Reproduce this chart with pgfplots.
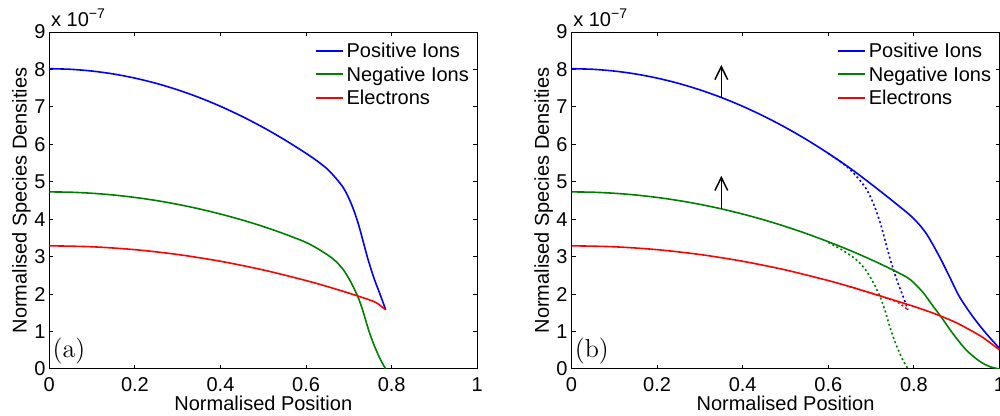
\documentclass[border=0pt]{standalone}
\usepackage{fontspec}
\setsansfont{Liberation Sans}
\usepackage{pgfplots}
\pgfplotsset{compat=1.18}
\usetikzlibrary{arrows.meta}

\definecolor{mblue}{rgb}{0,0,1}
\definecolor{mgreen}{rgb}{0,0.5,0}
\definecolor{mred}{rgb}{1,0,0}

\pgfplotsset{
  mstyle/.style={
    width=214pt, height=168.5pt, scale only axis,
    xmin=0,xmax=1,ymin=0,ymax=9,
    xtick={0,0.2,0.4,0.6,0.8,1},
    xticklabels={0,0.2,0.4,0.6,0.8,1},
    ytick={0,1,2,3,4,5,6,7,8,9},
    yticklabels={0,1,2,3,4,5,6,7,8,9},
    tick align=inside,
    major tick length=2pt,
    axis line style={line width=0.5pt},
    every tick/.style={black, line width=0.5pt},
    xticklabel style={inner sep=4.3pt},
    yticklabel style={inner sep=1.75pt},
    /pgf/number format/assume math mode=true,
    xlabel={Normalised Position},
    ylabel={Normalised Species Densities},
    xlabel style={at={(axis description cs:0.5,-0.1217)}, anchor=base, inner sep=0pt},
    ylabel style={at={(axis description cs:-0.0528,0.5)}, anchor=base, inner sep=0pt},
    clip mode=individual,
  },
  mline/.style={line width=0.8pt, smooth},
  mdot/.style={line width=0.8pt, smooth, dash pattern=on 1pt off 1.3pt, forget plot},
  marrow/.style={black, line width=0.75pt, -{Straight Barb[length=6.5pt,width=6.4pt,line width=0.75pt]}, forget plot},
}
% legend: three rows (line sample + text)
\newcommand{\mlegend}{%
  \draw[mblue, line width=1pt] (rel axis cs:0.6231,0.94362) -- (rel axis cs:0.6862,0.94362);
  \node[anchor=base west, inner sep=0pt] at (rel axis cs:0.6937,0.9249) {Positive Ions};
  \draw[mgreen, line width=1pt] (rel axis cs:0.6231,0.87537) -- (rel axis cs:0.6862,0.87537);
  \node[anchor=base west, inner sep=0pt] at (rel axis cs:0.6937,0.8543) {Negative Ions};
  \draw[mred, line width=1pt] (rel axis cs:0.6231,0.80415) -- (rel axis cs:0.6862,0.80415);
  \node[anchor=base west, inner sep=0pt] at (rel axis cs:0.6937,0.7837) {Electrons};
}

\begin{document}
\begin{tikzpicture}[font=\sffamily]
\path[use as bounding box] (0,0) rectangle (500pt,208pt);
\clip (0,0) rectangle (500pt,208pt);

% ---------------- Panel (a)
\begin{axis}[mstyle, at={(24.65pt,23.5pt)}, anchor=south west]
\addplot[mblue, mline] coordinates {(0,8.02)(0.05,8.004)(0.1,7.957)(0.15,7.879)(0.2,7.769)(0.25,7.628)(0.3,7.455)(0.35,7.251)(0.4,7.015)(0.45,6.748)(0.5,6.45)(0.55,6.12)(0.6,5.759)(0.63,5.52)(0.655,5.28)(0.6865,4.85)(0.706,4.40)(0.7214,3.90)(0.733,3.42)(0.7446,2.93)(0.760,2.38)(0.772,2.02)(0.786,1.58)};
\addplot[mgreen, mline] coordinates {(0,4.73)(0.05,4.721)(0.1,4.693)(0.15,4.647)(0.2,4.582)(0.25,4.499)(0.3,4.397)(0.35,4.277)(0.4,4.138)(0.45,3.981)(0.5,3.805)(0.55,3.605)(0.6,3.38)(0.632,3.18)(0.663,2.94)(0.6865,2.66)(0.706,2.29)(0.722,1.90)(0.733,1.54)(0.745,1.08)(0.757,0.69)(0.772,0.29)(0.786,0.0)};
\addplot[mred, mline] coordinates {(0,3.29)(0.1,3.264)(0.2,3.187)(0.3,3.058)(0.4,2.877)(0.5,2.645)(0.6,2.361)(0.65,2.200)(0.7,2.026)(0.74,1.877)(0.764,1.77)(0.786,1.58)};
\mlegend
\node[anchor=base west, inner sep=0pt] at (axis cs:0.007,0.30) {\rmfamily\fontsize{13}{15}\selectfont (a)};
\node[anchor=base west, inner sep=0pt, xshift=0.7pt, yshift=2.65pt] at (rel axis cs:0,1) {x 10\raisebox{4.2pt}{\fontsize{7}{8}\selectfont −7}};
\end{axis}

% ---------------- Panel (b)
\begin{axis}[mstyle, at={(285.75pt,23.5pt)}, anchor=south west]
\addplot[mblue, mdot] coordinates {(0.6,5.759)(0.63,5.52)(0.655,5.28)(0.6865,4.85)(0.706,4.40)(0.7214,3.90)(0.733,3.42)(0.7446,2.93)(0.760,2.38)(0.772,2.02)(0.786,1.58)};
\addplot[mgreen, mdot] coordinates {(0.6,3.38)(0.632,3.18)(0.663,2.94)(0.6865,2.66)(0.706,2.29)(0.722,1.90)(0.733,1.54)(0.745,1.08)(0.757,0.69)(0.772,0.29)(0.786,0.0)};
\addplot[mred, mdot] coordinates {(0.65,2.200)(0.7,2.026)(0.74,1.877)(0.764,1.77)(0.786,1.58)};
\addplot[mblue, mline] coordinates {(0,8.02)(0.05,8.004)(0.1,7.957)(0.15,7.879)(0.2,7.769)(0.25,7.628)(0.3,7.455)(0.35,7.251)(0.4,7.015)(0.45,6.748)(0.5,6.45)(0.55,6.12)(0.6,5.759)(0.65,5.37)(0.7,4.94)(0.75,4.49)(0.7974,4.04)(0.8287,3.62)(0.8597,3.00)(0.883,2.47)(0.9064,1.93)(0.9375,1.40)(0.9687,0.95)(1.0,0.55)};
\addplot[mgreen, mline] coordinates {(0,4.73)(0.05,4.721)(0.1,4.693)(0.15,4.647)(0.2,4.582)(0.25,4.499)(0.3,4.397)(0.35,4.277)(0.4,4.138)(0.45,3.981)(0.5,3.805)(0.55,3.611)(0.6,3.398)(0.65,3.17)(0.7,2.92)(0.75,2.65)(0.79,2.40)(0.8207,2.05)(0.844,1.69)(0.8674,1.33)(0.8907,0.95)(0.922,0.51)(0.953,0.21)(0.978,0.06)(1.0,0.0)};
\addplot[mred, mline] coordinates {(0,3.29)(0.1,3.264)(0.2,3.187)(0.3,3.058)(0.4,2.877)(0.5,2.645)(0.6,2.361)(0.65,2.200)(0.7,2.026)(0.75,1.85)(0.8,1.67)(0.85,1.47)(0.9,1.23)(0.95,0.92)(0.9687,0.78)(1.0,0.51)};
\addplot[marrow] coordinates {(0.35,7.25) (0.35,8.12)};
\addplot[marrow] coordinates {(0.35,4.28) (0.35,5.16)};
\mlegend
\node[anchor=base west, inner sep=0pt] at (axis cs:0.007,0.30) {\rmfamily\fontsize{13}{15}\selectfont (b)};
\node[anchor=base west, inner sep=0pt, xshift=0.7pt, yshift=2.65pt] at (rel axis cs:0,1) {x 10\raisebox{4.2pt}{\fontsize{7}{8}\selectfont −7}};
\end{axis}
\end{tikzpicture}
\end{document}
